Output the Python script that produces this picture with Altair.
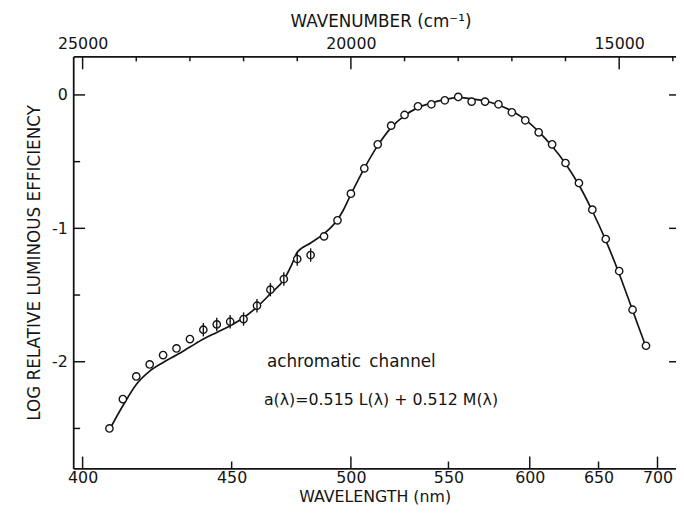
import altair as alt
import pandas as pd

# ---- measured points (wavenumber cm^-1, log relative luminous efficiency) ----
pt_wavenumber = [24500, 24250, 24000, 23750, 23500, 23250, 23000, 22750, 22500, 22250,
                 22000, 21750, 21500, 21250, 21000, 20750, 20500, 20250, 20000, 19750,
                 19500, 19250, 19000, 18750, 18500, 18250, 18000, 17750, 17500, 17250,
                 17000, 16750, 16500, 16250, 16000, 15750, 15500, 15250, 15000, 14750, 14500]
pt_logeff = [-2.50, -2.28, -2.11, -2.02, -1.95, -1.90, -1.83, -1.76, -1.72, -1.70,
             -1.68, -1.58, -1.46, -1.38, -1.23, -1.20, -1.06, -0.94, -0.74, -0.55,
             -0.37, -0.23, -0.15, -0.085, -0.07, -0.04, -0.015, -0.05, -0.05, -0.07,
             -0.13, -0.19, -0.28, -0.37, -0.51, -0.66, -0.86, -1.08, -1.32, -1.61, -1.88]
pt_err = [0, 0, 0, 0, 0, 0, 0, 0.05, 0.05, 0.05,
          0.05, 0.05, 0.05, 0.05, 0.05, 0.05, 0, 0, 0, 0,
          0, 0, 0, 0, 0, 0, 0, 0, 0, 0,
          0, 0, 0, 0, 0, 0, 0, 0, 0, 0, 0]

# ---- fitted curve a(lambda) ----
curve_wavenumber = [24500, 24250, 24000, 23750, 23500, 23250, 23000, 22750, 22500, 22250,
                    22000, 21750, 21500, 21250, 21100, 21000, 20750, 20500, 20250, 20150,
                    20000, 19750, 19500, 19250, 19000, 18750, 18500, 18250, 18000, 17750,
                    17500, 17250, 17000, 16750, 16500, 16250, 16000, 15750, 15500, 15250,
                    15000, 14750, 14500]
curve_logeff = [-2.51, -2.33, -2.17, -2.07, -2.005, -1.95, -1.89, -1.83, -1.78, -1.73,
                -1.67, -1.59, -1.49, -1.385, -1.27, -1.18, -1.11, -1.04, -0.935, -0.87,
                -0.745, -0.55, -0.38, -0.245, -0.155, -0.095, -0.06, -0.035, -0.018, -0.03,
                -0.045, -0.075, -0.12, -0.185, -0.275, -0.385, -0.515, -0.675, -0.87, -1.09,
                -1.34, -1.615, -1.89]

# ---- tick values ----
bottom_major_nm = [400, 500, 600, 700]
bottom_minor_nm = [450, 550, 650]
bottom_label_nm = [400, 450, 500, 550, 600, 650, 700]
top_major_wn = [25000, 20000, 15000]
top_minor_wn = [24000, 23000, 22000, 21000, 19000, 18000, 17000, 16000, 14000]
left_major = [0, -1, -2]
left_minor = [-0.5, -1.5, -2.5]
right_major = [0, -1, -2]

W, H = 610, 417
INK = "#141414"
FONT = "DejaVu Sans"

pts = pd.DataFrame({"wn": pt_wavenumber, "v": pt_logeff, "err": pt_err})
pts["lo"] = pts["v"] - pts["err"]
pts["hi"] = pts["v"] + pts["err"]
errs = pts[pts["err"] > 0]
curve = pd.DataFrame({"wn": curve_wavenumber, "v": curve_logeff})

xs = alt.Scale(domain=[13941, 25175], reverse=True, nice=False, zero=False)
ys = alt.Scale(domain=[-2.8, 0.289], nice=False, zero=False)

def xenc(field="wn", axis=None):
    return alt.X(f"{field}:Q", scale=xs, axis=axis)

def yenc(field="v", axis=None):
    return alt.Y(f"{field}:Q", scale=ys, axis=axis)

bottom_axis = alt.Axis(
    orient="bottom", values=[1e7 / w for w in bottom_label_nm],
    labelExpr="format(1e7/datum.value, '.0f')", ticks=False, grid=False,
    labelPadding=1, title="WAVELENGTH (nm)", titlePadding=3, titleFontSize=16)
top_axis = alt.Axis(
    orient="top", values=top_major_wn, format="d", ticks=False, grid=False,
    labelPadding=5, title="WAVENUMBER (cm⁻¹)", titlePadding=5, titleX=311)
left_axis = alt.Axis(
    orient="left", values=left_major, ticks=False, grid=False,
    labelExpr="datum.value < 0 ? '-' + format(-datum.value, 'd') : format(datum.value, 'd')",
    labelPadding=6, title="LOG RELATIVE LUMINOUS EFFICIENCY", titlePadding=8)

# ticks (inward)
bt_major = alt.Chart(pd.DataFrame({"nm": bottom_major_nm})).transform_calculate(
    wn="1e7/datum.nm").mark_rule(color=INK, strokeWidth=1.5).encode(
    x=xenc(), y=alt.value(H), y2=alt.value(H - 12))
bt_minor = alt.Chart(pd.DataFrame({"nm": bottom_minor_nm})).transform_calculate(
    wn="1e7/datum.nm").mark_rule(color=INK, strokeWidth=1.5).encode(
    x=xenc(), y=alt.value(H), y2=alt.value(H - 7))
tp_major = alt.Chart(pd.DataFrame({"wn": top_major_wn})).mark_rule(
    color=INK, strokeWidth=1.5).encode(
    x=xenc(axis=top_axis), y=alt.value(0), y2=alt.value(13))
tp_minor = alt.Chart(pd.DataFrame({"wn": top_minor_wn})).mark_rule(
    color=INK, strokeWidth=1.5).encode(
    x=xenc(), y=alt.value(0), y2=alt.value(5))
lf_major = alt.Chart(pd.DataFrame({"v": left_major})).mark_rule(
    color=INK, strokeWidth=1.5).encode(
    y=yenc(axis=left_axis), x=alt.value(0), x2=alt.value(12))
lf_minor = alt.Chart(pd.DataFrame({"v": left_minor})).mark_rule(
    color=INK, strokeWidth=1.5).encode(
    y=yenc(), x=alt.value(0), x2=alt.value(7))
rt_major = alt.Chart(pd.DataFrame({"v": right_major})).mark_rule(
    color=INK, strokeWidth=1.5).encode(
    y=yenc(), x=alt.value(W - 7), x2=alt.value(W))

line = alt.Chart(curve).mark_line(color=INK, strokeWidth=1.7, interpolate="monotone").encode(
    x=xenc(axis=bottom_axis), y=yenc(), order="wn:Q")

circles = alt.Chart(pts).mark_point(
    shape="circle", size=55, filled=True, fill="white", stroke=INK,
    strokeWidth=1.4, opacity=1).encode(x=xenc(), y=yenc())

bars = alt.Chart(errs).mark_rule(color=INK, strokeWidth=1.4).encode(
    x=xenc(), y=yenc("lo"), y2="hi:Q")

txt1 = alt.Chart().mark_text(
    text="achromatic\u2002channel", align="left", baseline="middle",
    font=FONT, fontSize=17, color=INK).encode(
    x=alt.datum(21565, scale=xs, axis=None), y=alt.datum(-2.0, scale=ys, axis=None))
txt2 = alt.Chart().mark_text(
    text="a(λ)=0.515 L(λ) + 0.512 M(λ)", align="left", baseline="middle",
    font=FONT, fontSize=16, color=INK).encode(
    x=alt.datum(21621, scale=xs, axis=None), y=alt.datum(-2.285, scale=ys, axis=None))

chart = alt.layer(
    bt_major, bt_minor, tp_major, tp_minor, lf_major, lf_minor, rt_major,
    line, circles, bars, txt1, txt2
).resolve_axis(x="independent", y="independent").properties(
    width=W, height=H,
    padding={"left": 66, "top": 46, "right": 0, "bottom": 34},
    autosize=alt.AutoSizeParams(type="none"),
    background="white",
).configure_view(stroke=None).configure_axis(
    domainColor=INK, domainWidth=1.8,
    labelFont=FONT, labelFontSize=16, labelColor=INK,
    titleFont=FONT, titleFontSize=17, titleFontWeight="normal", titleColor=INK,
)

chart.save("out.html", embed_options={"renderer": "svg", "actions": False})
